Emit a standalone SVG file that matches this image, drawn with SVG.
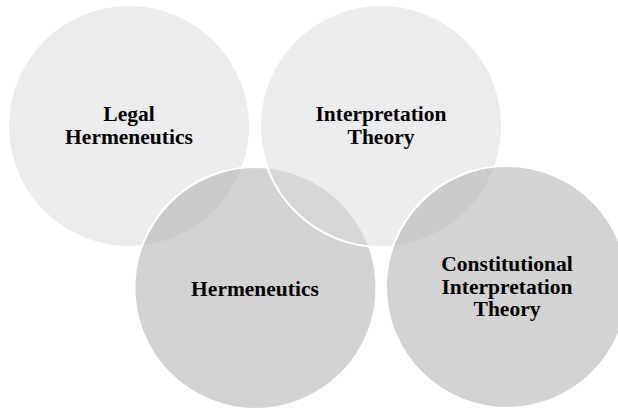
<svg xmlns="http://www.w3.org/2000/svg" width="618" height="410" viewBox="0 0 618 410">
  <style>
    .ring { stroke: #ffffff; stroke-width: 2; }
    .light { fill: #ebecee; }
    .light-over { fill: #d9dade; fill-opacity: 0.52; }
    .dark { fill: #b3b3b3; fill-opacity: 0.58; }
    .label { font-family: "Liberation Serif", "Times New Roman", serif; font-weight: bold; font-size: 21.5px; fill: #000000; text-anchor: middle; }
  </style>
  <rect width="618" height="410" fill="#ffffff"/>

  <g id="node-legal-hermeneutics">
    <circle class="ring light" cx="129" cy="126" r="121"/>
    <text class="label" x="129" y="121">Legal</text>
    <text class="label" x="129" y="144">Hermeneutics</text>
  </g>

  <g id="node-hermeneutics">
    <circle class="ring dark" cx="255.5" cy="288" r="121"/>
    <text class="label" x="255" y="296">Hermeneutics</text>
  </g>

  <g id="node-interpretation-theory">
    <circle class="ring light-over" cx="381" cy="126" r="121"/>
    <text class="label" x="381" y="121">Interpretation</text>
    <text class="label" x="381" y="144">Theory</text>
  </g>

  <g id="node-constitutional-interpretation-theory">
    <circle class="ring dark" cx="507" cy="287" r="121"/>
    <text class="label" x="507" y="271">Constitutional</text>
    <text class="label" x="507" y="293.5">Interpretation</text>
    <text class="label" x="507" y="316">Theory</text>
  </g>

  <g id="connectors"></g>
</svg>
